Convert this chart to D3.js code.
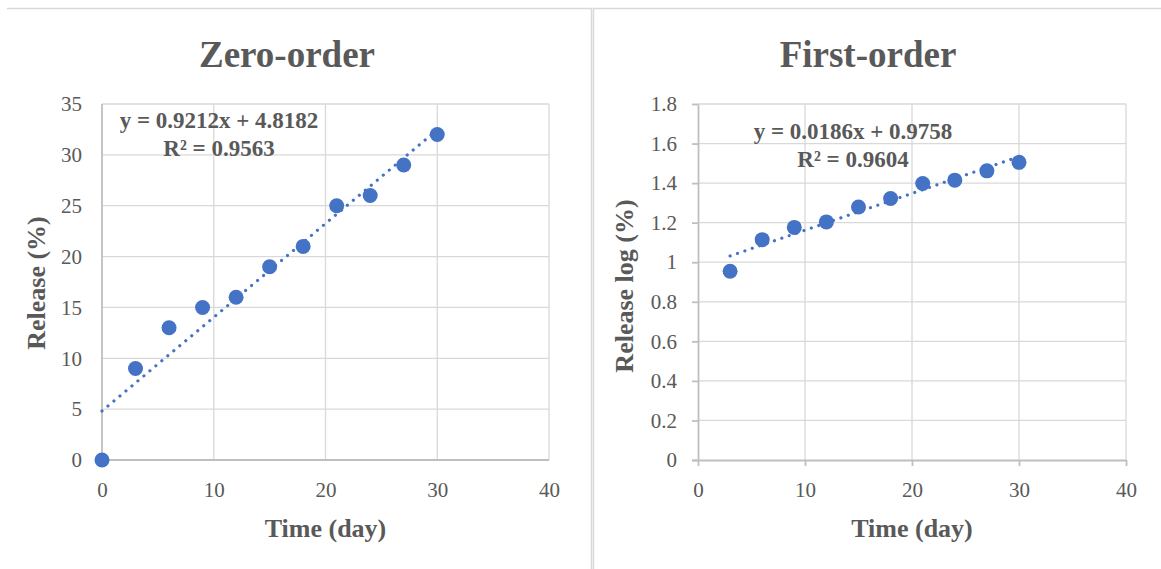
<!DOCTYPE html>
<html>
<head>
<meta charset="utf-8">
<script src="https://cdn.jsdelivr.net/npm/d3@7"></script>
<style>
  body { margin: 0; background: #fff; }
  svg text { font-family: "Liberation Serif", "Times New Roman", serif !important; fill: #595959; }
</style>
</head>
<body>
<svg id="svg1" width="1161" height="569"></svg>
<script>
// Zero-order data
let zeroDays = [0, 3, 6, 9, 12, 15, 18, 21, 24, 27, 30]
let zeroRelease = [0, 9, 13, 15, 16, 19, 21, 25, 26, 29, 32]
let zeroFit = [0.9212, 4.8182]
let zeroEquation = ['y = 0.9212x + 4.8182', 'R² = 0.9563']
let zeroTicksY = [0, 5, 10, 15, 20, 25, 30, 35]

// First-order data
let firstDays = [3, 6, 9, 12, 15, 18, 21, 24, 27, 30]
let firstLogRelease = [0.954, 1.114, 1.176, 1.204, 1.279, 1.322, 1.398, 1.415, 1.462, 1.505]
let firstFit = [0.0186, 0.9758]
let firstEquation = ['y = 0.0186x + 0.9758', 'R² = 0.9604']
let firstTicksY = [0, 0.2, 0.4, 0.6, 0.8, 1, 1.2, 1.4, 1.6, 1.8]

let xTicks = [0, 10, 20, 30, 40]

const blue = '#4472C4'
const svg = d3.select('#svg1')

// panel borders
svg.append('path')
  .attr('d', 'M7,8.5H591.5V569 M593.5,569V8.5H1161')
  .style('fill', 'none')
  .style('stroke', '#d9d9d9')
  .style('stroke-width', 1.5)

function drawChart(opt) {
  let g = svg.append('g').attr('id', opt.id)
  let x = d3.scaleLinear().domain([0, 40]).range([opt.left, opt.right])
  let y = d3.scaleLinear().domain([0, opt.yMax]).range([460, 104])

  // gridlines
  g.append('g')
    .selectAll('line')
    .data(opt.ticksY.filter(d => d > 0))
    .join('line')
    .attr('x1', opt.left).attr('x2', opt.right)
    .attr('y1', d => y(d)).attr('y2', d => y(d))
    .style('stroke', '#d9d9d9')
    .style('stroke-width', 1.3)
  g.append('g')
    .selectAll('line')
    .data(xTicks.filter(d => d > 0))
    .join('line')
    .attr('x1', d => x(d)).attr('x2', d => x(d))
    .attr('y1', 104).attr('y2', 460)
    .style('stroke', '#d9d9d9')
    .style('stroke-width', 1.3)

  // axes
  let yAxis = g.append('g')
    .attr('transform', `translate(${opt.left},0)`)
    .call(d3.axisLeft(y).tickValues(opt.ticksY).tickFormat(d => String(d))
      .tickSize(opt.tick).tickSizeOuter(0).tickPadding(opt.yPad))
  let xAxis = g.append('g')
    .attr('transform', 'translate(0,460)')
    .call(d3.axisBottom(x).tickValues(xTicks)
      .tickSize(opt.tick).tickSizeOuter(0).tickPadding(22 - opt.tick))
  ;[yAxis, xAxis].forEach(a => {
    a.attr('font-family', '"Liberation Serif", serif').attr('font-size', 21)
    a.selectAll('text')
      .attr('font-size', 21)
      .style('font-size', '21px')
      .style('fill', '#595959')
    a.selectAll('line, path').style('stroke', '#bfbfbf').style('stroke-width', 1.8)
  })
  if (opt.tick > 0) {
    xAxis.select('.domain').attr('d', `M${opt.left - opt.tick},0.5H${opt.right}`)
  } else {
    yAxis.select('.domain').remove()
    xAxis.select('.domain').remove()
    g.append('line')
      .attr('x1', opt.left).attr('x2', opt.left).attr('y1', 104).attr('y2', 460)
      .style('stroke', '#bfbfbf').style('stroke-width', 1.8)
    g.append('line')
      .attr('x1', opt.left).attr('x2', opt.right).attr('y1', 460).attr('y2', 460)
      .style('stroke', '#bfbfbf').style('stroke-width', 1.8)
  }

  // trendline
  let xs = d3.extent(opt.days)
  let fitPoints = xs.map(d => [d, opt.fit[0] * d + opt.fit[1]])
  g.append('path')
    .datum(fitPoints)
    .attr('d', d3.line(d => x(d[0]), d => y(d[1])))
    .style('fill', 'none')
    .style('stroke', blue)
    .style('stroke-width', 3.2)
    .style('stroke-linecap', 'round')
    .style('stroke-dasharray', '0.01 7.8')

  // markers
  g.append('g')
    .selectAll('circle')
    .data(d3.zip(opt.days, opt.values))
    .join('circle')
    .attr('cx', d => x(d[0]))
    .attr('cy', d => y(d[1]))
    .attr('r', 7.5)
    .style('fill', blue)

  // titles
  g.append('text')
    .attr('x', opt.titleX).attr('y', 67)
    .attr('text-anchor', 'middle')
    .style('font-size', '37px').style('font-weight', 'bold')
    .text(opt.title)
  g.append('text')
    .attr('x', (opt.left + opt.right) / 2).attr('y', 537)
    .attr('text-anchor', 'middle')
    .style('font-size', '26px').style('font-weight', 'bold')
    .text('Time (day)')
  g.append('text')
    .attr('transform', `translate(${opt.yTitleX},${opt.yTitleY}) rotate(-90)`)
    .attr('text-anchor', 'middle')
    .attr('dy', '0.35em')
    .style('font-size', '26px').style('font-weight', 'bold')
    .text(opt.yTitle)

  // equation
  g.append('g')
    .selectAll('text')
    .data(opt.equation)
    .join('text')
    .attr('x', opt.eqX)
    .attr('y', (d, i) => opt.eqY + i * 28)
    .attr('text-anchor', 'middle')
    .style('font-size', '23px').style('font-weight', 'bold')
    .text(d => d)
}

drawChart({
  id: 'zero', left: 102, right: 549, yMax: 35, ticksY: zeroTicksY,
  days: zeroDays, values: zeroRelease, fit: zeroFit, equation: zeroEquation,
  tick: 0, yPad: 20, title: 'Zero-order', titleX: 287,
  yTitle: 'Release (%)', yTitleX: 36, yTitleY: 283, eqX: 219, eqY: 128
})

drawChart({
  id: 'first', left: 698, right: 1126, yMax: 1.8, ticksY: firstTicksY,
  days: firstDays, values: firstLogRelease, fit: firstFit, equation: firstEquation,
  tick: 6, yPad: 15, title: 'First-order', titleX: 868,
  yTitle: 'Release log (%)', yTitleX: 624, yTitleY: 286, eqX: 853, eqY: 139
})
</script>
</body>
</html>
